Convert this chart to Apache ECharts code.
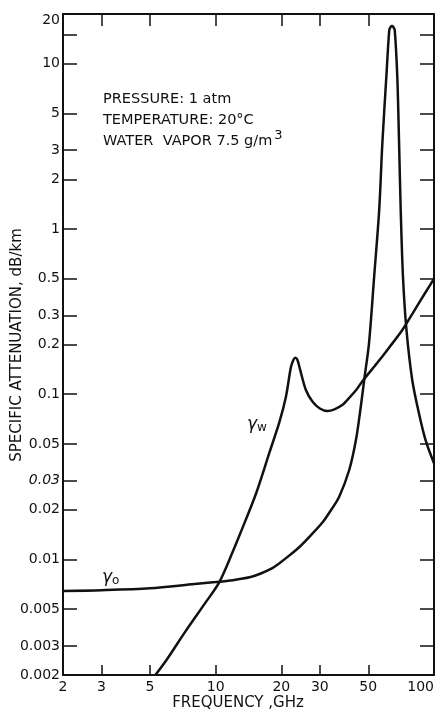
<!DOCTYPE html>
<html><head><meta charset="utf-8">
<script src="https://cdn.jsdelivr.net/npm/echarts@6/dist/echarts.min.js"></script>
<style>html,body{margin:0;padding:0;background:#fff}#c{width:437px;height:712px}</style>
</head><body><div id="c"></div>
<script>
// Oxygen (gamma_o) specific attenuation, dB/km vs frequency, GHz
const oxygenFreqGHz = [2, 3, 5, 8, 10, 12, 14.3, 16, 18, 19.6, 22, 24.2, 27, 30.9, 33.5, 36.8, 40.9, 43.9, 46.2, 47.9, 50.4, 53.2, 56.1, 58, 60.5, 62.4, 63.3, 64.2, 65.1, 66.1, 67.9, 69.2, 70.4, 72.1, 74.8, 79.5, 85.3, 91.5, 100];
const oxygenAtten   = [0.00645, 0.00652, 0.0067, 0.0071, 0.0073, 0.0075, 0.0078, 0.0082, 0.0088, 0.0095, 0.0107, 0.0119, 0.0138, 0.0168, 0.0196, 0.024, 0.0348, 0.0528, 0.084, 0.122, 0.204, 0.514, 1.3, 3.3, 8.35, 16.0, 16.7, 16.9, 16.7, 16.0, 8.35, 3.3, 1.3, 0.514, 0.245, 0.122, 0.0767, 0.0528, 0.0382];
// Water vapour (gamma_w)
const waterFreqGHz = [5.3, 6, 7.3, 9, 10.4, 12, 13, 15.3, 17.6, 19.6, 21, 22.1, 22.7, 23.2, 23.7, 24.3, 25.9, 27.8, 30, 32.5, 35, 38, 40, 44, 47, 55, 62, 71.6, 80, 90, 100];
const waterAtten   = [0.002, 0.0025, 0.0037, 0.0055, 0.0073, 0.0112, 0.0145, 0.025, 0.044, 0.068, 0.097, 0.145, 0.161, 0.166, 0.161, 0.143, 0.106, 0.09, 0.082, 0.0792, 0.081, 0.086, 0.092, 0.106, 0.12, 0.155, 0.19, 0.245, 0.31, 0.40, 0.50];
// Axis ticks / labels
const xRange = [2, 100];
const yRange = [0.002, 20];
const xTickValues  = [3, 5, 10, 20, 30, 50];
const xLabelValues = [2, 3, 5, 10, 20, 30, 50, 100];
const yTickValues  = [0.002, 0.003, 0.005, 0.01, 0.02, 0.03, 0.05, 0.1, 0.2, 0.3, 0.5, 1, 2, 3, 5, 10, 15];
const yLabelValues = [0.002, 0.003, 0.005, 0.01, 0.02, 0.03, 0.05, 0.1, 0.2, 0.3, 0.5, 1, 2, 3, 5, 10, 20];

const L = Math.log10;
const FONT = 'DejaVu Sans';
const INK = '#111';
function fmt(v) { return String(parseFloat(Math.pow(10, v).toPrecision(2))); }
function toPts(xs, ys) { return xs.map((x, i) => [L(x), L(ys[i])]); }

const chart = echarts.init(document.getElementById('c'), null, {renderer: 'canvas'});
const xBase = {
  type: 'value', min: L(xRange[0]), max: L(xRange[1]), splitLine: {show: false},
  axisLine: {show: true, onZero: false, lineStyle: {color: INK, width: 2}}
};
const yBase = {
  type: 'value', min: L(yRange[0]), max: L(yRange[1]), splitLine: {show: false},
  axisLine: {show: true, onZero: false, lineStyle: {color: INK, width: 2}}
};
chart.setOption({
  animation: false,
  backgroundColor: '#fff',
  grid: {left: 63, right: 2, top: 14, bottom: 37, containLabel: false},
  xAxis: [
    Object.assign({}, xBase, {
      position: 'bottom',
      axisTick: {show: true, inside: true, length: 10, customValues: xTickValues.map(L), lineStyle: {color: INK, width: 1.5}},
      axisLabel: {show: true, customValues: xLabelValues.map(L), formatter: fmt, margin: 5,
        fontFamily: FONT, fontSize: 14, color: INK, alignMaxLabel: 'right'}
    }),
    Object.assign({}, xBase, {
      position: 'top',
      axisTick: {show: true, inside: true, length: 12, customValues: xTickValues.map(L), lineStyle: {color: INK, width: 1.5}},
      axisLabel: {show: false}
    })
  ],
  yAxis: [
    Object.assign({}, yBase, {
      position: 'left',
      axisTick: {show: true, inside: true, length: 14, customValues: yTickValues.map(L), lineStyle: {color: INK, width: 1.5}},
      axisLabel: {show: true, customValues: yLabelValues.map(L), margin: 3,
        fontFamily: FONT, fontSize: 14, color: INK,
        formatter: v => { const s = fmt(v); return s === '0.03' ? '{i|0.03}' : (s === '20' ? '{t|20}' : s); },
        rich: {i: {fontStyle: 'italic', fontFamily: FONT, fontSize: 14, color: INK},
               t: {fontFamily: FONT, fontSize: 14, color: INK, padding: [12, 0, 0, 0]}}}
    }),
    Object.assign({}, yBase, {
      position: 'right',
      axisTick: {show: true, inside: true, length: 14, customValues: yTickValues.map(L), lineStyle: {color: INK, width: 1.5}},
      axisLabel: {show: false}
    })
  ],
  series: [
    {name: 'gamma_o', type: 'line', data: toPts(oxygenFreqGHz, oxygenAtten), showSymbol: false, smooth: 0.3,
      lineStyle: {color: INK, width: 2.5}, clip: true},
    {name: 'gamma_w', type: 'line', data: toPts(waterFreqGHz, waterAtten), showSymbol: false, smooth: 0.3,
      lineStyle: {color: INK, width: 2.5}, clip: true}
  ],
  graphic: [
    {type: 'text', x: 103, y: 99, style: {text: 'PRESSURE: 1 atm', font: '14.5px "DejaVu Sans"', fill: INK, verticalAlign: 'middle'}},
    {type: 'text', x: 103, y: 120, style: {text: 'TEMPERATURE: 20°C', font: '14.5px "DejaVu Sans"', fill: INK, verticalAlign: 'middle'}},
    {type: 'text', x: 103, y: 141, style: {text: 'WATER  VAPOR 7.5 g/m{s|3}', font: '14.5px "DejaVu Sans"', fill: INK, verticalAlign: 'middle',
      rich: {s: {fontSize: 13, fontFamily: FONT, fill: INK, padding: [0, 0, 10, 2]}}}},
    {type: 'text', x: 102, y: 578, style: {text: '{g|γ}{s|o}', fill: INK, verticalAlign: 'middle',
      rich: {g: {fontSize: 17, fontFamily: FONT, fontStyle: 'italic', fill: INK}, s: {fontSize: 12, fontFamily: FONT, fill: INK, padding: [6, 0, 0, 0]}}}},
    {type: 'text', x: 247, y: 425, style: {text: '{g|γ}{s|w}', fill: INK, verticalAlign: 'middle',
      rich: {g: {fontSize: 17, fontFamily: FONT, fontStyle: 'italic', fill: INK}, s: {fontSize: 12, fontFamily: FONT, fill: INK, padding: [6, 0, 0, 0]}}}},
    {type: 'text', x: 238, y: 703, style: {text: 'FREQUENCY ,GHz', font: '15px "DejaVu Sans"', fill: INK, align: 'center', verticalAlign: 'middle'}},
    {type: 'text', x: 17, y: 345, rotation: Math.PI / 2, style: {text: 'SPECIFIC ATTENUATION, dB/km', font: '15px "DejaVu Sans"', fill: INK, align: 'center', verticalAlign: 'middle'}}
  ]
});
</script></body></html>
